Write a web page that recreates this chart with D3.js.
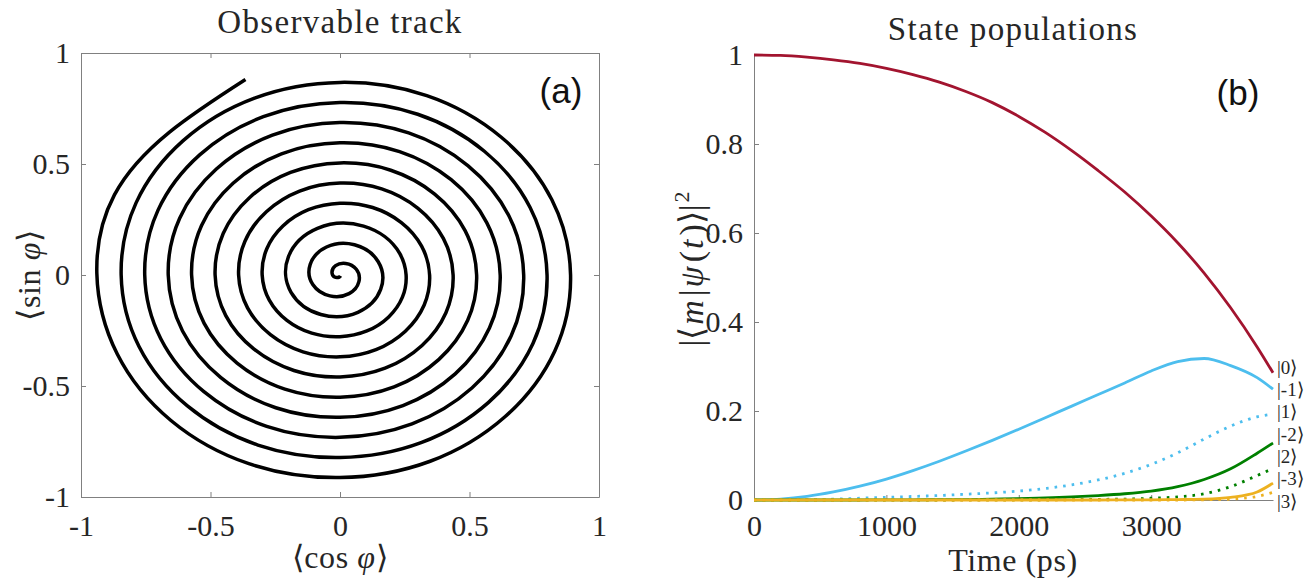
<!DOCTYPE html>
<html>
<head>
<meta charset="utf-8">
<script src="https://cdnjs.cloudflare.com/ajax/libs/d3/7.8.5/d3.min.js"></script>
<style>
  body { margin: 0; background: #fff; }
  svg text { font-family: 'Liberation Serif', 'Times New Roman', serif; fill: #262626; }
  .title { font-size: 33px; letter-spacing: 1.3px; }
  .label { font-size: 32px; letter-spacing: 0.6px; }
  .panel-tag { font-family: 'Liberation Sans', Arial, sans-serif; font-size: 35px; fill: #111; }
</style>
</head>
<body>
<script>
// (a) observable track, read along the spiral from the outer end inward
var trackX = [-0.365,-0.871,-0.860,-0.352,0.348,0.829,0.818,0.335,
  -0.330,-0.787,-0.776,-0.317,0.313,0.745,0.734,0.300,
  -0.296,-0.703,-0.692,-0.283,0.278,0.661,0.651,0.265,
  -0.261,-0.619,-0.608,-0.248,0.243,0.577,0.567,0.230,
  -0.226,-0.535,-0.525,-0.213,0.209,0.493,0.483,0.196,
  -0.191,-0.451,-0.441,-0.178,0.174,0.409,0.399,0.161,
  -0.156,-0.367,-0.357,-0.143,0.139,0.325,0.315,0.126,
  -0.122,-0.283,-0.273,-0.109,0.104,0.241,0.231,0.091,
  -0.087,-0.199,-0.189,-0.074,0.069,0.157,0.147,0.056,
  -0.052,-0.115,-0.105,-0.039,0.035,0.073,0.063,0.022,
  -0.017,-0.031,-0.021,-0.004,0.002];
var trackY = [0.881,0.361,-0.356,-0.850,-0.839,-0.343,0.339,0.808,
  0.797,0.326,-0.322,-0.766,-0.755,-0.309,0.304,0.724,
  0.713,0.291,-0.287,-0.682,-0.671,-0.274,0.269,0.640,
  0.630,0.256,-0.252,-0.598,-0.588,-0.239,0.235,0.556,
  0.546,0.222,-0.217,-0.514,-0.504,-0.204,0.200,0.472,
  0.462,0.187,-0.183,-0.430,-0.420,-0.170,0.165,0.388,
  0.378,0.152,-0.148,-0.346,-0.336,-0.135,0.130,0.304,
  0.294,0.117,-0.113,-0.262,-0.252,-0.100,0.096,0.220,
  0.210,0.083,-0.078,-0.178,-0.168,-0.065,0.061,0.136,
  0.126,0.048,-0.043,-0.094,-0.084,-0.030,0.026,0.052,
  0.042,0.013,-0.009,-0.010,-0.004];
var ticksA = [-1, -0.5, 0, 0.5, 1];

// (b) state populations
var times = [0,200,400,600,800,1000,1200,1400,1600,1800,2000,2200,2400,2600,2800,3000,3200,3400,3600,3800,3920];
var pop0  = [1.000,0.999,0.995,0.989,0.981,0.970,0.956,0.939,0.918,0.893,0.862,0.826,0.785,0.740,0.692,0.638,0.578,0.510,0.432,0.344,0.286];
var popM1 = [0,0.002,0.008,0.018,0.031,0.047,0.066,0.087,0.110,0.134,0.159,0.185,0.211,0.237,0.263,0.290,0.311,0.318,0.302,0.275,0.249];
var pop1  = [0,0.0003,0.001,0.002,0.004,0.006,0.008,0.010,0.013,0.016,0.020,0.026,0.034,0.045,0.060,0.080,0.106,0.137,0.166,0.187,0.193];
var popM2 = [0,0,0,0,0,0.0002,0.0004,0.0007,0.001,0.002,0.003,0.005,0.007,0.010,0.014,0.020,0.030,0.046,0.070,0.105,0.128];
var pop2  = [0,0,0,0,0,0,0,0,0.0001,0.0002,0.0003,0.0005,0.001,0.0015,0.002,0.004,0.007,0.014,0.030,0.055,0.071];
var popM3 = [0,0,0,0,0,0,0,0,0,0,0,0,0,0,0.0002,0.0005,0.001,0.002,0.006,0.018,0.038];
var pop3  = [0,0,0,0,0,0,0,0,0,0,0,0,0,0,0,0,0,0.0005,0.002,0.008,0.017];
var stateNames = ['|0\u27E9', '|-1\u27E9', '|1\u27E9', '|-2\u27E9', '|2\u27E9', '|-3\u27E9', '|3\u27E9'];
var ticksT = [0, 1000, 2000, 3000];
var ticksP = [0, 0.2, 0.4, 0.6, 0.8, 1];

var series = [
  {name: stateNames[0], vals: pop0,  color: '#A2142F', dotted: false},
  {name: stateNames[1], vals: popM1, color: '#4DBEEE', dotted: false},
  {name: stateNames[2], vals: pop1,  color: '#4DBEEE', dotted: true},
  {name: stateNames[3], vals: popM2, color: '#008000', dotted: false},
  {name: stateNames[4], vals: pop2,  color: '#008000', dotted: true},
  {name: stateNames[5], vals: popM3, color: '#EDB120', dotted: false},
  {name: stateNames[6], vals: pop3,  color: '#EDB120', dotted: true}
];

var axisColor = '#808080';
var fmt = function(d) { return String(d); };
var blank = function() { return ''; };

function styleAxis(g) {
  g.attr('font-family', null).attr('font-size', null);
  g.selectAll('path, line').attr('stroke', axisColor).attr('stroke-width', 1);
  g.selectAll('text').attr('fill', '#262626').style('font-size', '30px');
}

var svg = d3.select('body').append('svg')
  .attr('width', 1309)
  .attr('height', 585);

// ---------- panel (a)
var xA = d3.scaleLinear().domain([-1, 1]).range([81, 599]);
var yA = d3.scaleLinear().domain([-1, 1]).range([497, 53]);

svg.append('g').attr('transform', 'translate(0,497)')
  .call(d3.axisBottom(xA).tickValues(ticksA).tickFormat(fmt).tickSizeInner(-5).tickSizeOuter(0).tickPadding(18))
  .call(styleAxis);
svg.append('g').attr('transform', 'translate(0,53)')
  .call(d3.axisTop(xA).tickValues(ticksA).tickFormat(blank).tickSizeInner(-5).tickSizeOuter(0))
  .call(styleAxis);
svg.append('g').attr('transform', 'translate(81,0)')
  .call(d3.axisLeft(yA).tickValues(ticksA).tickFormat(fmt).tickSizeInner(-5).tickSizeOuter(0).tickPadding(11))
  .call(styleAxis);
svg.append('g').attr('transform', 'translate(599,0)')
  .call(d3.axisRight(yA).tickValues(ticksA).tickFormat(blank).tickSizeInner(-5).tickSizeOuter(0))
  .call(styleAxis);

var spiral = d3.line()
  .x(function(d, i) { return xA(trackX[i]); })
  .y(function(d, i) { return yA(trackY[i]); })
  .curve(d3.curveNatural);

svg.append('path')
  .datum(trackX)
  .attr('d', spiral)
  .attr('fill', 'none')
  .attr('stroke', '#000')
  .attr('stroke-width', 3.5);

svg.append('text').attr('class', 'title').attr('x', 340).attr('y', 33)
  .attr('text-anchor', 'middle').text('Observable track');
svg.append('text').attr('class', 'panel-tag').attr('x', 561).attr('y', 103)
  .attr('text-anchor', 'middle').text('(a)');

var xlabA = svg.append('text').attr('class', 'label').attr('x', 340).attr('y', 568)
  .attr('text-anchor', 'middle');
xlabA.append('tspan').text('\u27E8cos ');
xlabA.append('tspan').attr('font-style', 'italic').text('\u03C6');
xlabA.append('tspan').text('\u27E9');

var ylabA = svg.append('text').attr('class', 'label')
  .attr('transform', 'translate(40,275) rotate(-90)')
  .attr('text-anchor', 'middle');
ylabA.append('tspan').text('\u27E8sin ');
ylabA.append('tspan').attr('font-style', 'italic').text('\u03C6');
ylabA.append('tspan').text('\u27E9');

// ---------- panel (b)
var xB = d3.scaleLinear().domain([0, 3920]).range([754, 1273]);
var yB = d3.scaleLinear().domain([0, 1]).range([500, 55]);

svg.append('g').attr('transform', 'translate(0,500)')
  .call(d3.axisBottom(xB).tickValues(ticksT).tickFormat(fmt).tickSizeInner(-5).tickSizeOuter(0).tickPadding(15))
  .call(styleAxis);
svg.append('g').attr('transform', 'translate(754,0)')
  .call(d3.axisLeft(yB).tickValues(ticksP).tickFormat(fmt).tickSizeInner(-5).tickSizeOuter(0).tickPadding(11))
  .call(styleAxis);

var popLine = function(vals) {
  return d3.line()
    .x(function(d, i) { return xB(times[i]); })
    .y(function(d) { return yB(d); })
    .curve(d3.curveMonotoneX)(vals);
};

svg.selectAll('.pop')
  .data(series)
  .enter()
  .append('path')
  .attr('class', 'pop')
  .attr('d', function(s) { return popLine(s.vals); })
  .attr('fill', 'none')
  .attr('stroke', function(s) { return s.color; })
  .attr('stroke-width', 2.8)
  .attr('stroke-dasharray', function(s) { return s.dotted ? '2.6,6' : null; });

// end labels, pushed apart from the bottom up
var labelY = [];
var gap = 22.3;
for (var i = series.length - 1; i >= 0; i--) {
  var yEnd = yB(series[i].vals[series[i].vals.length - 1]);
  if (i === series.length - 1) labelY[i] = yB(0) + 1;
  else labelY[i] = Math.min(yEnd, labelY[i + 1] - gap);
}
svg.selectAll('.state')
  .data(series)
  .enter()
  .append('text')
  .attr('class', 'state')
  .attr('x', 1277)
  .attr('y', function(s, i) { return labelY[i]; })
  .attr('dy', '0.35em')
  .style('font-size', '19px')
  .text(function(s) { return s.name; });

svg.append('text').attr('class', 'title').attr('x', 1013).attr('y', 40)
  .attr('text-anchor', 'middle').text('State populations');
svg.append('text').attr('class', 'panel-tag').attr('x', 1238).attr('y', 105)
  .attr('text-anchor', 'middle').text('(b)');
svg.append('text').attr('class', 'label').attr('x', 1013).attr('y', 571)
  .attr('text-anchor', 'middle').text('Time (ps)');

// y label of (b), set piece by piece so the italic parts keep their room
var ylabParts = [
  {t: '|\u27E8', it: false}, {t: 'm', it: true}, {t: '|', it: false},
  {t: '\u03C8', it: true}, {t: '(', it: false}, {t: 't', it: true},
  {t: ')\u27E9|', it: false}, {t: '2', it: false, sup: true}
];
var ylabB = svg.append('g').attr('transform', 'translate(703,268) rotate(-90)');
var inner = ylabB.append('g');
var cursor = 0;
ylabParts.forEach(function(p) {
  var t = inner.append('text')
    .attr('x', cursor)
    .attr('y', p.sup ? -14 : 0)
    .style('font-size', p.sup ? '22px' : '34px')
    .attr('font-style', p.it ? 'italic' : null)
    .text(p.t);
  cursor += t.node().getComputedTextLength() + (p.it ? 4 : 2);
});
inner.attr('transform', 'translate(' + (-cursor / 2) + ',0)');
</script>
</body>
</html>
